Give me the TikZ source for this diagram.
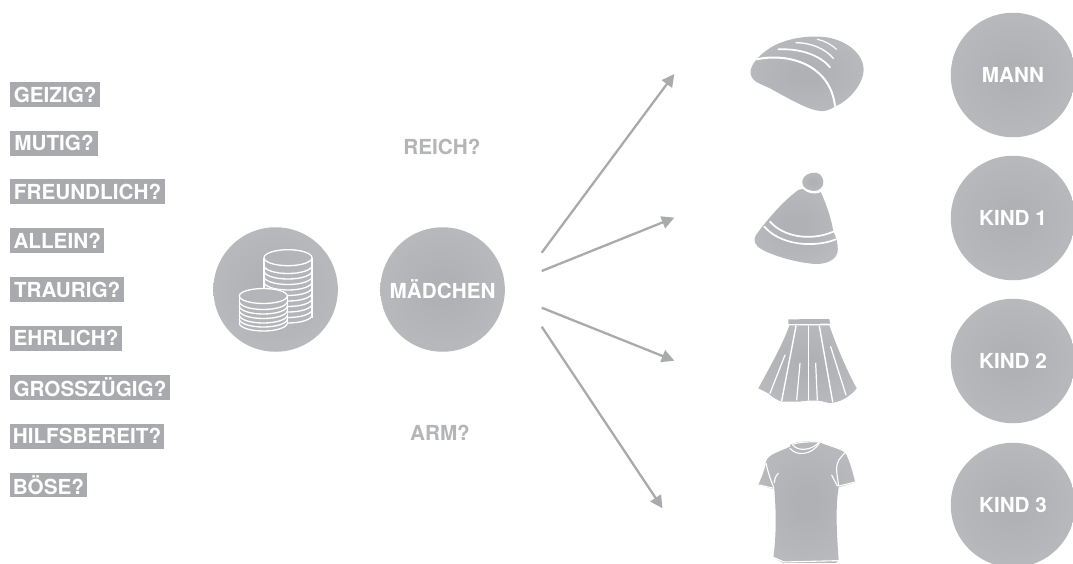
\documentclass[tikz,border=0pt]{standalone}
\usepackage{fontspec}
\setmainfont{TeX Gyre Heros}
\usetikzlibrary{arrows.meta}
\definecolor{tagfill}{HTML}{A9AAAD}
\definecolor{softgray}{HTML}{B4B5B8}
\definecolor{midgray}{HTML}{B0B1B4}
\definecolor{rimgray}{HTML}{C2C3C6}
\pgfdeclareradialshading{softdisc}{\pgfpointorigin}{color(0bp)=(midgray); color(6bp)=(midgray); color(50bp)=(rimgray)}
\tikzset{
  txt/.style={font=\fontsize{20.7}{24}\selectfont\bfseries},
  disc/.style={circle,minimum size=124.5pt,inner sep=0pt,shade,shading=softdisc,text=white,txt},
  tag/.style={anchor=west,fill=tagfill,text=white,inner sep=0pt,minimum height=24.6pt,txt},
  plain/.style={text=softgray,txt,inner sep=0pt},
  conn/.style={draw=tagfill,line width=2.3pt,-{Triangle[length=12.5pt,width=12.5pt]}},
  icon/.style={shade,shading=softdisc},
  seam/.style={draw=white,line width=1.7pt,line cap=round,line join=round},
  zoomed/.style={x=0.3333pt,y=-0.3333pt},
}
\begin{document}
\begin{tikzpicture}[x=1pt,y=-1pt]
\clip (0,0) rectangle (1073,563);
\fill[white] (0,0) rectangle (1073,563);
% question tags
\node[tag,minimum width=90pt] (t1) at (10,94.5) {GEIZIG?};
\node[tag,minimum width=87.7pt] (t2) at (10,143.3) {MUTIG?};
\node[tag,minimum width=154.7pt] (t3) at (10,191.7) {FREUNDLICH?};
\node[tag,minimum width=94pt] (t4) at (10,240.6) {ALLEIN?};
\node[tag,minimum width=114pt] (t5) at (10,289.6) {TRAURIG?};
\node[tag,minimum width=111.7pt] (t6) at (10,338.4) {EHRLICH?};
\node[tag,minimum width=159.5pt] (t7) at (10,387.3) {GROSSZÜGIG?};
\node[tag,minimum width=153.7pt] (t8) at (10,436.3) {HILFSBEREIT?};
\node[tag,minimum width=76.5pt] (t9) at (10,485.1) {BÖSE?};
% discs
\node[disc] (coin) at (275.6,289.5) {};
\node[disc] (girl) at (442.6,289.5) {MÄDCHEN};
\node[disc] (mann) at (1013,75) {MANN};
\node[disc] (k1) at (1013,218) {KIND 1};
\node[disc] (k2) at (1013,361) {KIND 2};
\node[disc] (k3) at (1013,505) {KIND 3};
\node[plain] (reich) at (442,147) {REICH?};
\node[plain] (arm) at (440,433) {ARM?};
% coins
\begin{scope}[draw=white,line width=1.3pt]
  \fill[softgray] (264,257.7) -- (264,320) arc[start angle=180,end angle=0,x radius=24,y radius=8] -- (312,257.7) -- cycle;
  \foreach \yy in {265.5,271,276.5,282,287.5,293,298.5,304,309.5,315}
    \draw (264,\yy) arc[start angle=180,end angle=0,x radius=24,y radius=8];
  \draw (264,257.7) -- (264,318) (312,257.7) -- (312,318);
  \draw (288,257.7) ellipse[x radius=24,y radius=8];
  \fill[softgray] (239.3,296) -- (239.3,322.5) arc[start angle=180,end angle=0,x radius=24,y radius=8] -- (287.3,296) arc[start angle=0,end angle=-180,x radius=24,y radius=8] -- cycle;
  \foreach \yy in {301.5,306,310.5,315,319,323}
    \draw (239.3,\yy) arc[start angle=180,end angle=0,x radius=24,y radius=8];
  \draw (239.3,296) -- (239.3,323) (287.3,296) -- (287.3,323);
  \draw (263.3,296) ellipse[x radius=24,y radius=7.5];
\end{scope}
% arrows
\coordinate (a1) at (541.7,252.7); \coordinate (b1) at (674.3,74);
\coordinate (a2) at (541.7,271);   \coordinate (b2) at (674.3,217.7);
\coordinate (a3) at (541.7,307.7); \coordinate (b3) at (674.3,360.7);
\coordinate (a4) at (541.7,326.7); \coordinate (b4) at (662.5,508.3);
\draw[conn] (a1) -- (b1);
\draw[conn] (a2) -- (b2);
\draw[conn] (a3) -- (b3);
\draw[conn] (a4) -- (b4);
% bread
\begin{scope}[shift={(730,20)},zoomed]
  \path[icon] (62,150) .. controls (68,125) and (95,98) .. (130,78) .. controls (175,55) and (225,48) .. (270,50) .. controls (330,52) and (400,90) .. (401,150) .. controls (400,190) and (360,240) .. (318,258) .. controls (300,270) and (285,275) .. (270,273) .. controls (235,270) and (180,238) .. (120,205) .. controls (90,190) and (58,185) .. (62,150) -- cycle;
  \draw[seam,line width=2pt] (80,118) .. controls (170,98) and (300,130) .. (315,258);
  \draw[seam,line width=1.7pt] (145,88) .. controls (210,85) and (270,105) .. (300,142);
  \draw[seam,line width=1.3pt] (198,68) .. controls (240,68) and (285,85) .. (310,115);
  \draw[seam,line width=1.1pt] (262,58) .. controls (285,62) and (305,75) .. (320,88);
\end{scope}
% beanie
\begin{scope}[shift={(730,20)},zoomed]
  \path[icon] (205,510) .. controls (225,502) and (255,512) .. (272,515) .. controls (290,555) and (305,600) .. (310,635) .. controls (318,650) and (325,670) .. (323,695) .. controls (318,720) and (290,733) .. (255,732) .. controls (200,728) and (130,708) .. (95,688) .. controls (75,678) and (68,660) .. (78,645) .. controls (100,615) and (150,550) .. (205,510) -- cycle;
  \draw[draw=white,line width=3pt] (218,498) .. controls (230,518) and (265,522) .. (280,505);
  \path[icon] (217,482) .. controls (220,465) and (240,457) .. (258,458) .. controls (276,461) and (283,480) .. (279,495) .. controls (272,512) and (255,516) .. (240,511) .. controls (225,507) and (215,497) .. (217,482) -- cycle;
  \draw[seam] (120,605) .. controls (160,650) and (240,665) .. (310,635);
  \draw[seam] (103,620) .. controls (150,675) and (250,685) .. (318,658);
\end{scope}
% skirt
\begin{scope}[shift={(730,300)},zoomed]
  \fill[softgray] (175,58) -- (298,57) -- (300,71) -- (175,72) -- cycle;
  \path[icon] (178,76) -- (298,76) .. controls (320,140) and (350,210) .. (380,265) .. controls (365,285) and (335,305) .. (310,308) .. controls (290,312) and (280,302) .. (265,302) -- (235,302) .. controls (220,302) and (210,306) .. (200,305) -- (155,305) .. controls (140,300) and (125,290) .. (115,280) -- (85,265) .. controls (120,200) and (160,130) .. (178,76) -- cycle;
  \draw[seam,line width=1.4pt] (198,78) -- (155,303);
  \draw[seam,line width=1.4pt] (235,78) -- (235,300);
  \draw[seam,line width=1.4pt] (268,78) -- (308,305);
  \draw[seam,line width=1.2pt] (165,165) -- (120,280);
  \draw[seam,line width=1.2pt] (302,140) -- (348,285);
  \draw[seam,line width=1.2pt] (210,190) -- (200,300);
  \draw[seam,line width=1.2pt] (257,190) -- (262,300);
\end{scope}
% shirt
\begin{scope}[shift={(730,300)},zoomed]
  \path[icon] (180,435) .. controls (200,422) and (250,422) .. (270,428) .. controls (300,440) and (325,445) .. (345,458) .. controls (360,480) and (368,520) .. (376,547) -- (326,562) .. controls (316,620) and (320,700) .. (326,780) -- (318,789) -- (160,789) -- (130,772) .. controls (140,700) and (138,630) .. (133,568) -- (85,555) .. controls (95,530) and (105,510) .. (108,485) .. controls (115,462) and (150,455) .. (180,440) -- cycle;
  \begin{scope}[seam,line width=1.1pt]
    \draw (180,445) .. controls (200,470) and (245,465) .. (268,430);
    \draw (188,435) .. controls (205,455) and (245,452) .. (268,426);
    \draw (188,433) .. controls (210,425) and (245,425) .. (268,426);
    \draw (108,490) .. controls (115,520) and (122,540) .. (131,562);
    \draw (88,555) -- (132,565);
    \draw (145,520) .. controls (135,530) and (133,540) .. (133,548);
    \draw (345,458) .. controls (325,480) and (315,490) .. (322,530) -- (326,558);
    \draw (328,558) -- (375,546);
    \draw (305,525) -- (322,558);
    \draw (130,772) -- (162,786) -- (325,782);
  \end{scope}
\end{scope}
\end{tikzpicture}
\end{document}
